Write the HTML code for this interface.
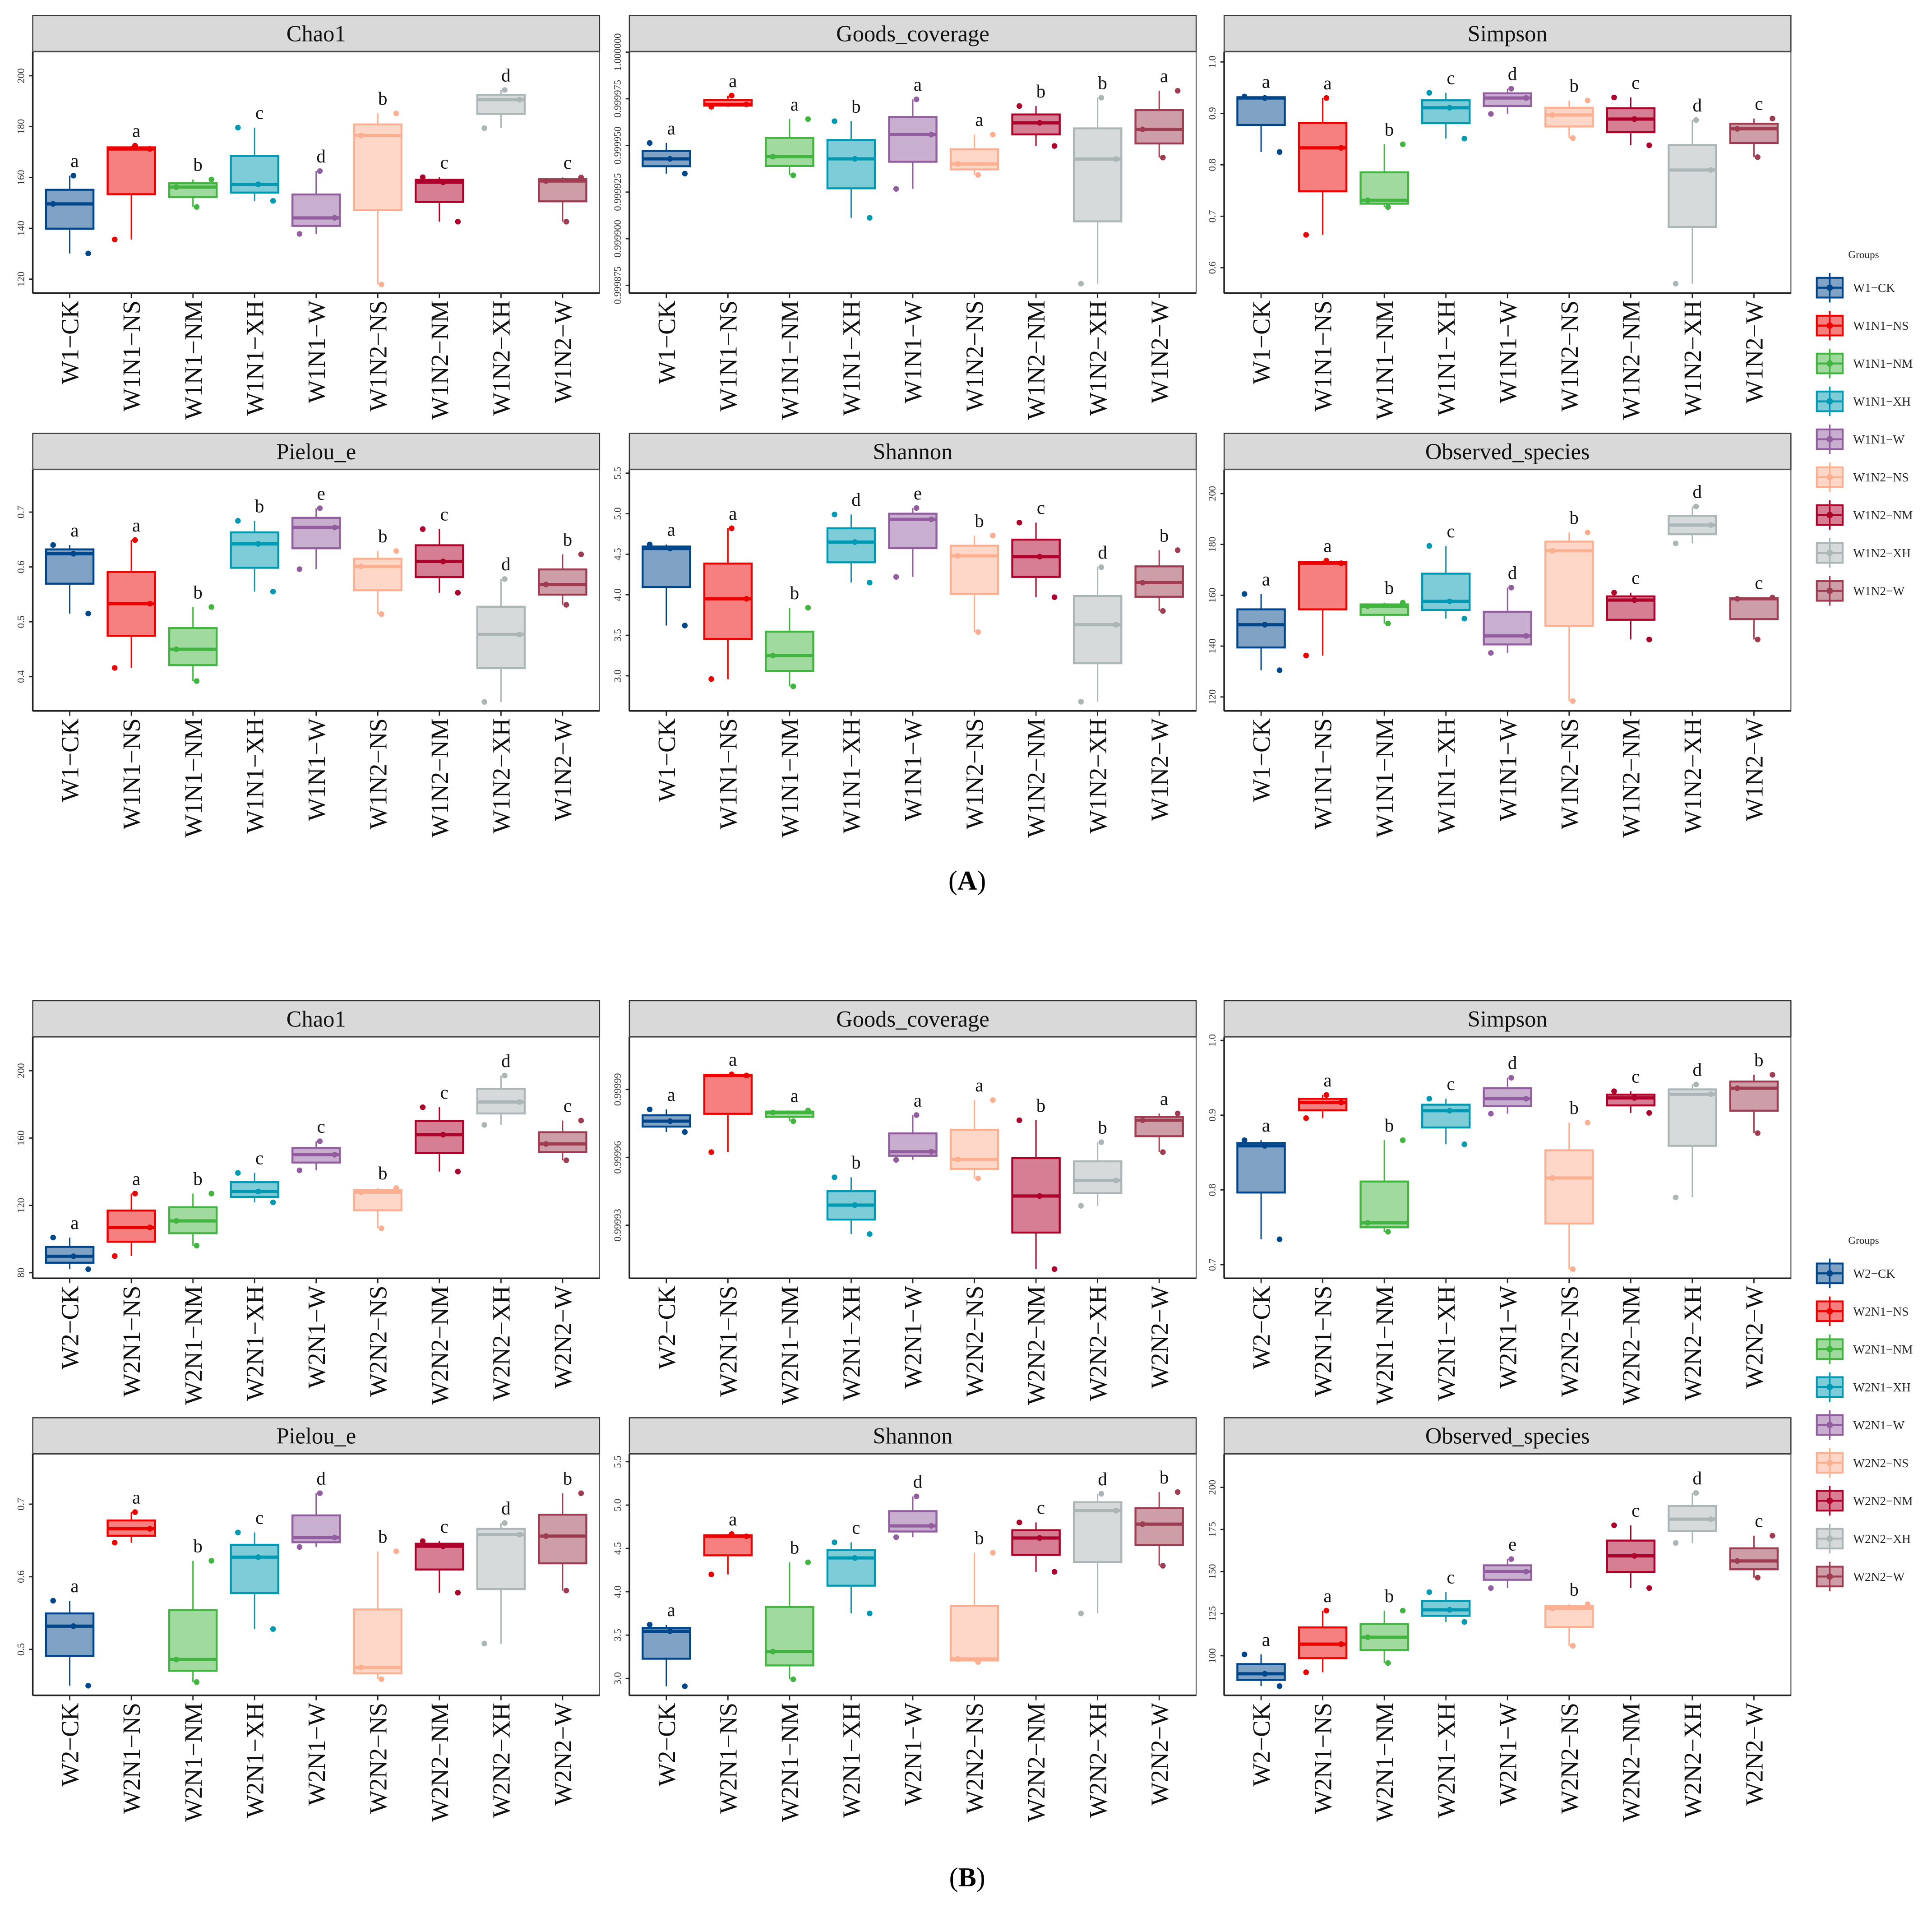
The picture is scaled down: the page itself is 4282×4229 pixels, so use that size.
<!DOCTYPE html>
<html><head><meta charset="utf-8"><style>
html,body{margin:0;padding:0;background:#fff;}
svg{display:block;font-family:"Liberation Serif","DejaVu Serif",serif;}
</style></head><body>
<svg id="fig" xmlns="http://www.w3.org/2000/svg" width="4282" height="4229" viewBox="0 0 1568 1548.6" preserveAspectRatio="none"></svg>
<script>
const groupsA = ['W1\u2212CK','W1N1\u2212NS','W1N1\u2212NM','W1N1\u2212XH','W1N1\u2212W','W1N2\u2212NS','W1N2\u2212NM','W1N2\u2212XH','W1N2\u2212W'];
const groupsB = ['W2\u2212CK','W2N1\u2212NS','W2N1\u2212NM','W2N1\u2212XH','W2N1\u2212W','W2N2\u2212NS','W2N2\u2212NM','W2N2\u2212XH','W2N2\u2212W'];
const colors = ['#00468B','#ED0000','#42B540','#0099B4','#925E9F','#FDAF91','#AD002A','#ADB6B6','#9E3D52'];

// Panel A
const chaoA = [[149.6,160.7,130.1],[172.5,171.2,135.6],[159.2,156.2,148.4],[179.6,157.3,150.8],[162.5,144.1,137.8],[185.2,176.5,117.9],[160.1,158.1,142.6],[194.4,190.6,179.4],[160,158.6,142.6]];
const chaoALetters = ['a','a','b','c','d','b','c','d','c'];
const goodsA = [[0.9999513,0.9999428,0.9999349],[0.9999767,0.999972,0.9999707],[0.9999641,0.999944,0.999934],[0.999963,0.9999428,0.9999112],[0.9999747,0.9999558,0.9999267],[0.9999558,0.9999401,0.9999342],[0.9999711,0.9999621,0.9999497],[0.9999756,0.9999427,0.9998759],[0.9999793,0.9999586,0.9999435]];
const goodsALetters = ['a','a','a','b','a','a','b','b','a'];
const simpsonA = [[0.933,0.930,0.825],[0.930,0.833,0.664],[0.840,0.731,0.718],[0.940,0.911,0.851],[0.948,0.930,0.899],[0.925,0.897,0.852],[0.931,0.889,0.838],[0.887,0.790,0.569],[0.890,0.870,0.815]];
const simpsonALetters = ['a','a','b','c','d','b','c','d','c'];
const pielouA = [[0.640,0.624,0.515],[0.649,0.533,0.416],[0.527,0.450,0.392],[0.684,0.642,0.555],[0.707,0.672,0.596],[0.629,0.601,0.514],[0.669,0.610,0.553],[0.578,0.477,0.354],[0.623,0.568,0.531]];
const pielouALetters = ['a','a','b','b','e','b','c','d','b'];
const shannonA = [[4.62,4.57,3.62],[4.82,3.95,2.96],[3.84,3.25,2.87],[4.99,4.65,4.15],[5.07,4.93,4.22],[4.73,4.48,3.54],[4.89,4.47,3.97],[4.34,3.63,2.68],[4.55,4.15,3.80]];
const shannonALetters = ['a','a','b','d','e','b','c','d','b'];
const obsA = [[160.5,148.4,130.5],[173.6,172.6,136.3],[157.1,155.7,148.9],[179.4,157.6,150.8],[163,144,137.3],[184.7,177.5,118.4],[161,158.1,142.6],[194.9,187.6,180.4],[159.1,158.6,142.6]];
const obsALetters = ['a','a','b','c','d','b','c','d','c'];

// Panel B
const chaoB = [[100.9,89.8,82.1],[127,106.9,89.9],[127,110.8,96.1],[139.3,128.3,121.8],[158.1,150.1,140.8],[130.3,127.8,106.4],[178.3,162,140.1],[197.1,181.4,167.8],[170.4,156.5,146.8]];
const chaoBLetters = ['a','a','b','c','c','b','c','d','c'];
const goodsB = [[0.9999812,0.999976,0.9999712],[0.9999967,0.9999962,0.9999623],[0.9999807,0.9999798,0.999976],[0.9999512,0.9999389,0.9999261],[0.9999787,0.9999625,0.9999589],[0.9999853,0.9999591,0.9999507],[0.9999764,0.9999429,0.9999106],[0.9999667,0.9999498,0.9999386],[0.9999794,0.9999764,0.9999623]];
const goodsBLetters = ['a','a','a','b','a','a','b','b','a'];
const simpsonB = [[0.8665,0.859,0.734],[0.927,0.917,0.896],[0.8665,0.756,0.744],[0.922,0.906,0.861],[0.950,0.922,0.902],[0.890,0.816,0.694],[0.932,0.923,0.903],[0.941,0.928,0.790],[0.954,0.936,0.876]];
const simpsonBLetters = ['a','a','b','c','d','b','c','d','b'];
const pielouB = [[0.567,0.532,0.450],[0.689,0.666,0.647],[0.622,0.486,0.455],[0.661,0.627,0.528],[0.715,0.654,0.641],[0.635,0.475,0.459],[0.649,0.642,0.578],[0.674,0.658,0.508],[0.715,0.656,0.581]];
const pielouBLetters = ['a','a','b','c','d','b','c','d','b'];
const shannonB = [[3.62,3.545,2.91],[4.665,4.64,4.20],[4.34,3.31,2.99],[4.57,4.39,3.75],[5.10,4.76,4.63],[4.45,3.225,3.19],[4.80,4.62,4.23],[5.13,4.935,3.75],[5.15,4.78,4.30]];
const shannonBLetters = ['a','a','b','c','d','b','c','d','b'];
const obsB = [[100.8,89.3,82.0],[126.8,106.9,90.2],[126.8,111,95.7],[137.8,127.3,120.1],[157.4,150,140.2],[130.6,128.2,105.9],[177.5,159.3,140.2],[196.7,181.1,167],[171.3,156.3,146.4]];
const obsBLetters = ['a','a','b','c','e','b','c','d','c'];

// Axis tick values / labels
const ticksChaoA = [120,140,160,180,200];
const ticksGoodsA = [0.999875,0.9999,0.999925,0.99995,0.999975,1.0];
const tickLabelsGoodsA = ['0.999875','0.999900','0.999925','0.999950','0.999975','1.000000'];
const ticksSimpsonA = [0.6,0.7,0.8,0.9,1.0];
const ticksPielouA = [0.4,0.5,0.6,0.7];
const ticksShannon = [3.0,3.5,4.0,4.5,5.0,5.5];
const ticksChaoB = [80,120,160,200];
const ticksGoodsB = [0.99993,0.99996,0.99999];
const tickLabelsGoodsB = ['0.99993','0.99996','0.99999'];
const ticksSimpsonB = [0.7,0.8,0.9,1.0];
const ticksPielouB = [0.5,0.6,0.7];
const ticksObsB = [100,125,150,175,200];

// Axis domains [bottom, top]
const domChaoA = [114.5,209.4], domGoodsA = [0.99987084,1.00000015], domSimpsonA = [0.5507,1.0196];
const domPielouA = [0.3376,0.7773], domShannonA = [2.567,5.543], domObsA = [114.5,209.4];
const domChaoB = [76.7,220.0], domGoodsB = [0.99990655,1.00001318], domSimpsonB = [0.6818,1.0045];
const domPielouB = [0.4367,0.7689], domShannonB = [2.805,5.588], domObsB = [76.5,219.75];

const NS = 'http://www.w3.org/2000/svg';
const svg = document.getElementById('fig');
function el(tag, attrs, parent){
  const e = document.createElementNS(NS, tag);
  for (const k in attrs) e.setAttribute(k, attrs[k]);
  (parent||svg).appendChild(e);
  return e;
}
const colX = [26.6, 510.8, 993.5];
const W = 460;
const jit = [-0.27, 0.06, 0.3];

function panel(col, plotTop, title, dom, ticks, tickLabels, dec, vals, letters, groups, key){
  const x0 = colX[col], x1 = x0 + W, y0 = plotTop, y1 = plotTop + 195.8;
  const g = el('g', {});
  
  
  const ys = v => y1 - (v - dom[0]) / (dom[1] - dom[0]) * (y1 - y0);
  const step = W / 9.2;
  const xs = i => x0 + (i + 0.6) * step;
  const strip = el('rect', {x:x0, y:y0-29.5, width:W, height:29.5, fill:'#d9d9d9', stroke:'#333', 'stroke-width':0.9}, g);
  
  
  const st = el('text', {x:x0+W/2, y:y0-8.5, 'text-anchor':'middle', 'font-size':18.5, fill:'#111'}, g);
  st.textContent = title;
  
  
  el('line', {x1:x0, y1:y0, x2:x1, y2:y0, stroke:'#333', 'stroke-width':1.6}, g);
  const pb = el('rect', {x:x0, y:y0, width:W, height:y1-y0, fill:'#fff', stroke:'#555', 'stroke-width':0.8}, g);
  
  
  el('line', {x1:x0, y1:y0, x2:x0, y2:y1, stroke:'#222', 'stroke-width':1.3}, g);
  el('line', {x1:x0, y1:y1, x2:x1, y2:y1, stroke:'#222', 'stroke-width':1.3}, g);
  ticks.forEach((t, i) => {
    const y = ys(t);
    el('line', {x1:x0-3, y1:y, x2:x0, y2:y, stroke:'#222', 'stroke-width':1}, g);
    const lab = tickLabels ? tickLabels[i] : t.toFixed(dec);
    const tx = el('text', {x:0, y:0, transform:`translate(${x0-7},${y}) rotate(-90)`, 'text-anchor':'middle', 'font-size':8.2, fill:'#333'}, g);
    tx.textContent = lab;
    
    
  });
  groups.forEach((name, i) => {
    const x = xs(i);
    el('line', {x1:x, y1:y1, x2:x, y2:y1+4, stroke:'#222', 'stroke-width':1}, g);
    const tx = el('text', {x:0, y:0, transform:`translate(${x+7},${y1+6}) rotate(-90)`, 'text-anchor':'end', 'font-size':20, fill:'#111'}, g);
    tx.textContent = name;
    
    
  });
  vals.forEach((v, i) => {
    const s = v.slice().sort((a,b)=>a-b);
    const mn = s[0], md = s[1], mx = s[2];
    const q1 = (mn + md) / 2, q3 = (md + mx) / 2;
    const c = colors[i], x = xs(i), bw = step * 0.77;
    const bg = el('g', {}, g);
    
    
    el('line', {x1:x, y1:ys(mx), x2:x, y2:ys(q3), stroke:c, 'stroke-width':1.1}, bg);
    el('line', {x1:x, y1:ys(q1), x2:x, y2:ys(mn), stroke:c, 'stroke-width':1.1}, bg);
    el('rect', {x:x-bw/2, y:ys(q3), width:bw, height:Math.max(ys(q1)-ys(q3),1), fill:c, 'fill-opacity':0.5, stroke:c, 'stroke-width':1.6}, bg);
    el('line', {x1:x-bw/2, y1:ys(md), x2:x+bw/2, y2:ys(md), stroke:c, 'stroke-width':2.6}, bg);
    v.forEach((p, k) => {
      const dot = el('circle', {cx:x + jit[(i + k) % 3] * step, cy:ys(p), r:2.3, fill:c}, bg);
      
      
    });
    const lt = el('text', {x:x + 0.08*step, y:ys(mx) - 7, 'text-anchor':'middle', 'font-size':15, fill:'#111'}, bg);
    lt.textContent = letters[i];
    
    
  });
}

const rA1 = 42.1, rA2 = 381.2, rB1 = 841.7, rB2 = 1180.2;
panel(0, rA1, 'Chao1', domChaoA, ticksChaoA, null, 0, chaoA, chaoALetters, groupsA, 'a-chao1');
panel(1, rA1, 'Goods_coverage', domGoodsA, ticksGoodsA, tickLabelsGoodsA, 0, goodsA, goodsALetters, groupsA, 'a-goods-coverage');
panel(2, rA1, 'Simpson', domSimpsonA, ticksSimpsonA, null, 1, simpsonA, simpsonALetters, groupsA, 'a-simpson');
panel(0, rA2, 'Pielou_e', domPielouA, ticksPielouA, null, 1, pielouA, pielouALetters, groupsA, 'a-pielou');
panel(1, rA2, 'Shannon', domShannonA, ticksShannon, null, 1, shannonA, shannonALetters, groupsA, 'a-shannon');
panel(2, rA2, 'Observed_species', domObsA, ticksChaoA, null, 0, obsA, obsALetters, groupsA, 'a-observed-species');
panel(0, rB1, 'Chao1', domChaoB, ticksChaoB, null, 0, chaoB, chaoBLetters, groupsB, 'b-chao1');
panel(1, rB1, 'Goods_coverage', domGoodsB, ticksGoodsB, tickLabelsGoodsB, 0, goodsB, goodsBLetters, groupsB, 'b-goods-coverage');
panel(2, rB1, 'Simpson', domSimpsonB, ticksSimpsonB, null, 1, simpsonB, simpsonBLetters, groupsB, 'b-simpson');
panel(0, rB2, 'Pielou_e', domPielouB, ticksPielouB, null, 1, pielouB, pielouBLetters, groupsB, 'b-pielou');
panel(1, rB2, 'Shannon', domShannonB, ticksShannon, null, 1, shannonB, shannonBLetters, groupsB, 'b-shannon');
panel(2, rB2, 'Observed_species', domObsB, ticksObsB, null, 0, obsB, obsBLetters, groupsB, 'b-observed-species');

function legend(top, groups, key){
  const g = el('g', {});
  
  
  const t = el('text', {x:1500, y:top, 'font-size':8.5, fill:'#222'}, g);
  
  
  t.textContent = 'Groups';
  groups.forEach((name, i) => {
    const cy = top + 24 + i * 30.76, c = colors[i];
    const eg = el('g', {}, g);
    
    
    el('line', {x1:1485, y1:cy-12, x2:1485, y2:cy+12, stroke:c, 'stroke-width':1.3}, eg);
    el('rect', {x:1474.5, y:cy-8, width:21, height:16, fill:c, 'fill-opacity':0.5, stroke:c, 'stroke-width':1.5}, eg);
    el('line', {x1:1474.5, y1:cy, x2:1495.5, y2:cy, stroke:c, 'stroke-width':1.6}, eg);
    el('circle', {cx:1485, cy:cy, r:2.6, fill:c}, eg);
    const lt = el('text', {x:1504, y:cy+3.5, 'font-size':10, fill:'#222'}, eg);
    lt.textContent = name;
  });
}
legend(209.5, groupsA, 'legend-a');
legend(1009.5, groupsB, 'legend-b');

function figLabel(y, letter, key){
  const t = el('text', {x:785, y:y, 'text-anchor':'middle', 'font-size':22, fill:'#000'});
  
  
  t.appendChild(document.createTextNode('('));
  const b = el('tspan', {'font-weight':'bold'}, t);
  b.textContent = letter;
  t.appendChild(document.createTextNode(')'));
}
figLabel(722, 'A', 'label-a');
figLabel(1531, 'B', 'label-b');
</script>
</body></html>
